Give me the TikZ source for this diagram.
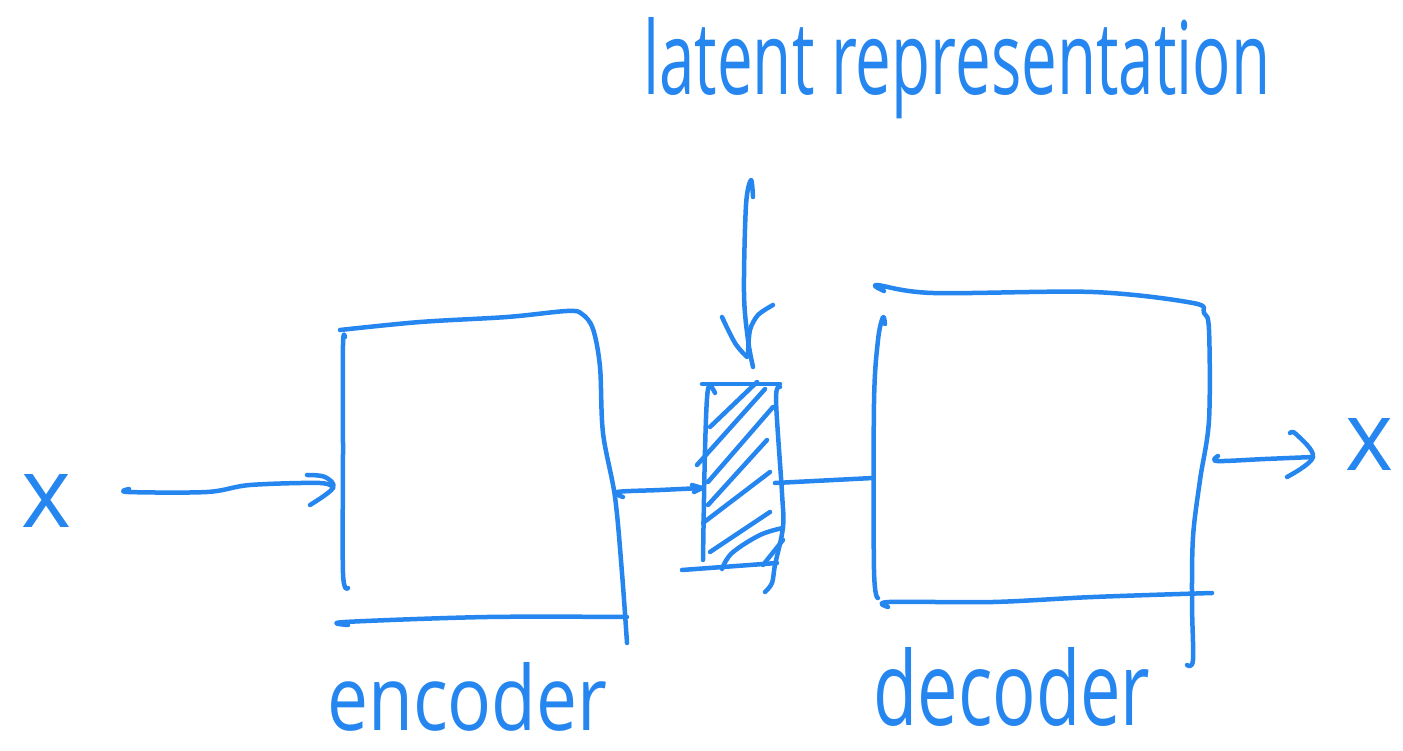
\documentclass[tikz,border=0pt]{standalone}
\usepackage{fontspec}
\setmainfont{Open Sans}
\usepackage{graphicx}
\definecolor{ink}{RGB}{38,134,240}
\begin{document}
\begin{tikzpicture}[x=1pt,y=-1pt,
  hand/.style={draw=ink, line width=4.5pt, line cap=round, line join=round},
  lbl/.style={text=ink, inner sep=0pt, anchor=base west}]
\useasboundingbox (0,0) rectangle (1403,751);

% labels
\node[lbl] (xin) at (21,527) {\resizebox{50pt}{53pt}{x}};
\node[lbl] (xout) at (1345,470) {\resizebox{48pt}{52pt}{x}};
\node[lbl] (latentlbl) at (643,95) {\resizebox{627pt}{77pt}{latent representation}};
\node[lbl] (enclbl) at (327,730) {\resizebox{280pt}{68pt}{encoder}};
\node[lbl] (declbl) at (873,725) {\resizebox{277pt}{78pt}{decoder}};

% connector end points
\coordinate (inS) at (128,492);
\coordinate (inE) at (333,488);
\coordinate (encOut) at (617,492);
\coordinate (latIn) at (702,488);
\coordinate (latOut) at (775,483);
\coordinate (decIn) at (873,478);
\coordinate (outS) at (1217,461);
\coordinate (outE) at (1313,457);
\coordinate (topS) at (751,180);
\coordinate (topE) at (753,367);

% encoder box
\draw[hand] plot[smooth, tension=0.55] coordinates {(340,330) (420,322) (507,317) (567,311) (582,314) (593,329) (600,367) (603,433) (615,497) (622,573) (627,643)};
\draw[hand] plot[smooth, tension=0.55] coordinates {(345,337) (343,345) (343,450) (343,573) (348,588)};
\draw[hand] plot[smooth, tension=0.55] coordinates {(348,625) (345,622) (487,617) (627,617)};

% decoder box
\draw[hand] plot[smooth, tension=0.55] coordinates {(884,291) (877,285) (933,293) (1093,292) (1193,303) (1204,313) (1209,330) (1209,420) (1200,480) (1193,537) (1192,603) (1193,660) (1187,665)};
\draw[hand] plot[smooth, tension=0.55] coordinates {(885,324) (883,317) (878,340) (874,403) (874,570) (878,598)};
\draw[hand] plot[smooth, tension=0.55] coordinates {(888,607) (889,602) (993,602) (1093,597) (1212,593)};

% latent block
\draw[hand] (702,384) -- (780,384);
\draw[hand] plot[smooth, tension=0.55] coordinates {(715,393) (708,389) (705,450) (703,560)};
\draw[hand] plot[smooth, tension=0.55] coordinates {(780,387) (776,400) (782,493) (783,527) (775,565) (772,583) (765,592)};
\draw[hand] (682,570) -- (777,563);
\draw[hand] (710,427) -- (757,382);
\draw[hand] (697,465) -- (765,389);
\draw[hand] (708,482) -- (773,407);
\draw[hand] (708,505) -- (767,440);
\draw[hand] (703,523) -- (770,472);
\draw[hand] (710,552) -- (770,512);
\draw[hand] plot[smooth, tension=0.6] coordinates {(722,569) (732,553) (760,535) (783,528)};
\draw[hand] (763,565) -- (783,540);

% arrow from label down to latent block
\draw[hand] plot[smooth, tension=0.55] coordinates {(753,197) (topS) (746,205) (744,293) (748,340) (topE)};
\draw[hand] plot[smooth, tension=0.6] coordinates {(722,317) (735,343) (747,357)};
\draw[hand] plot[smooth, tension=0.5] coordinates {(773,305) (758,315) (750,330) (748,353)};

% input arrow
\draw[hand] plot[smooth, tension=0.55] coordinates {(129,489) (inS) (207,492) (250,485) (320,483) (inE)};
\draw[hand] plot[smooth, tension=0.6] coordinates {(307,475) (325,477) (inE) (310,505)};

% encoder -> latent
\draw[hand] plot[smooth, tension=0.55] coordinates {(623,497) (encOut) (660,490) (latIn)};
\draw[hand] (692,485) -- (latIn) -- (694,492);

% latent -> decoder
\draw[hand] (latOut) -- (decIn);

% output arrow
\draw[hand] plot[smooth, tension=0.55] coordinates {(1218,456) (outS) (1265,459) (outE)};
\draw[hand] plot[smooth, tension=0.6] coordinates {(1290,433) (1296,434) (outE) (1287,477)};
\end{tikzpicture}
\end{document}
